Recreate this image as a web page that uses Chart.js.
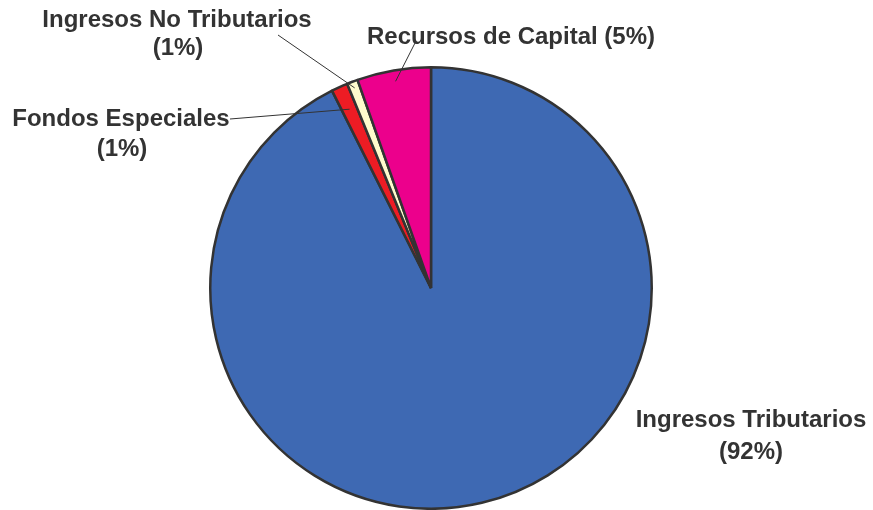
<!DOCTYPE html>
<html><head><meta charset="utf-8">
<script src="https://cdn.jsdelivr.net/npm/chart.js@4"></script>
<style>html,body{margin:0;padding:0;background:#fff}#w{width:873px;height:510px}</style>
</head><body><div id="w"><canvas id="c" width="873" height="510"></canvas></div>
<script>
const categories = ['Ingresos Tributarios', 'Fondos Especiales', 'Ingresos No Tributarios', 'Recursos de Capital'];
const values = [92.6, 1.2, 0.8, 5.4];
const pctLabels = ['(92%)', '(1%)', '(1%)', '(5%)'];
const colors = ['#3E69B3', '#ED1C24', '#FFFBCC', '#EC008C'];

// label layout: lines, anchor points, leader outer end, leader inner radius fraction
const labelLayout = [
  {lines: [[categories[0], 751, 420], [pctLabels[0], 751, 452]], leader: null},
  {lines: [[categories[1], 121, 119], [pctLabels[1], 122, 149]], leader: [230, 119, 0.89]},
  {lines: [[categories[2], 177, 20], [pctLabels[2], 178, 48]], leader: [278, 35, 0.97]},
  {lines: [[categories[3] + ' ' + pctLabels[3], 511, 37]], leader: [415, 43, 0.95]}
];

const labelPlugin = {
  id: 'labels',
  afterDraw(chart) {
    const ctx = chart.ctx;
    const meta = chart.getDatasetMeta(0);
    ctx.save();
    meta.data.forEach((arc, i) => {
      const L = labelLayout[i];
      if (L.leader) {
        const p = arc.getProps(['x', 'y', 'startAngle', 'endAngle', 'outerRadius'], true);
        const a = (p.startAngle + p.endAngle) / 2;
        const r = p.outerRadius * L.leader[2];
        ctx.beginPath();
        ctx.moveTo(L.leader[0], L.leader[1]);
        ctx.lineTo(p.x + Math.cos(a) * r, p.y + Math.sin(a) * r);
        ctx.strokeStyle = '#333333';
        ctx.lineWidth = 1;
        ctx.stroke();
      }
      ctx.fillStyle = '#333333';
      ctx.font = 'bold 24px "Liberation Sans", Arial, sans-serif';
      ctx.textAlign = 'center';
      ctx.textBaseline = 'middle';
      L.lines.forEach(([t, x, y]) => ctx.fillText(t, x, y));
    });
    ctx.restore();
  }
};

new Chart(document.getElementById('c'), {
  type: 'pie',
  data: {
    labels: categories,
    datasets: [{
      data: values,
      backgroundColor: colors,
      borderColor: '#333333',
      borderWidth: 2.5,
      borderAlign: 'center'
    }]
  },
  options: {
    responsive: false,
    animation: false,
    layout: {padding: {left: 209, right: 220, top: 66, bottom: 0}},
    plugins: {legend: {display: false}, tooltip: {enabled: false}}
  },
  plugins: [labelPlugin]
});
</script>
</body></html>
